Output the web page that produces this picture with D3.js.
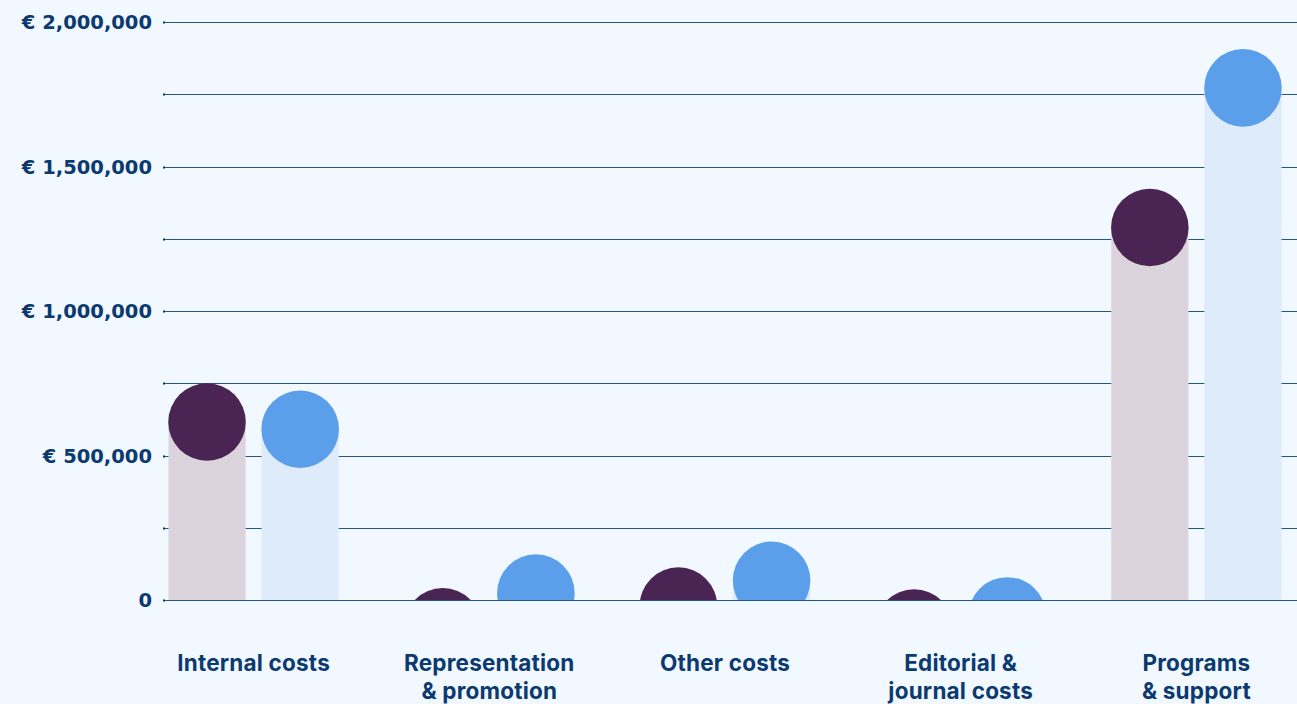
<!DOCTYPE html>
<html>
<head>
<meta charset="utf-8">
<script src="https://cdn.jsdelivr.net/npm/d3@7"></script>
<style>
  html, body { margin: 0; padding: 0; background: #f2f8ff; }
  svg { display: block; }
</style>
</head>
<body>
<svg id="chart" width="1297" height="704"></svg>
<script>
// ---- data ----
const categories = ["Internal costs", "Representation\n& promotion", "Other costs", "Editorial &\njournal costs", "Programs\n& support"];
const seriesNames = ["Previous year", "Current year"];
const previousYear = [616000, -93000, -21000, -97000, 1289000];
const currentYear = [591000, 24000, 68000, -55000, 1772000];
const yTicks = [0, 250000, 500000, 750000, 1000000, 1250000, 1500000, 1750000, 2000000];
const yTickLabels = ["0", "", "€ 500,000", "", "€ 1,000,000", "", "€ 1,500,000", "", "€ 2,000,000"];

// ---- styles ----
const barColors = ["#dcd4dd", "#deebfb"];
const dotColors = ["#4a2554", "#5b9eea"];
const textColor = "#0b3a70";
const gridColor = "#25558f";

const svg = d3.select("#chart");
const W = 1297, H = 704;

const y = d3.scaleLinear().domain([0, 2000000]).range([600, 22]);
const x0 = d3.scaleBand().domain(categories).range([135.75, 1314.25]).padding(0);
const x1 = d3.scaleBand().domain(seriesNames).range([0, x0.bandwidth()])
  .paddingInner(0.172).paddingOuter(0.351);

const gridX0 = 163, gridX1 = W;

// clip for plot area (nothing below zero line)
svg.append("defs").append("clipPath").attr("id", "plotclip")
  .append("rect").attr("x", 0).attr("y", 0).attr("width", W).attr("height", y(0));

// gridlines
const grid = svg.append("g");
grid.selectAll("line").data(yTicks.filter(d => d !== 0)).join("line")
  .attr("x1", gridX0).attr("x2", gridX1)
  .attr("y1", d => Math.round(y(d)) + 0.5).attr("y2", d => Math.round(y(d)) + 0.5)
  .attr("stroke", gridColor).attr("stroke-width", 1);

// y labels
svg.append("g").selectAll("text").data(yTicks.map((d, i) => ({v: d, t: yTickLabels[i]})).filter(d => d.t))
  .join("text")
  .attr("x", 152).attr("y", d => y(d.v))
  .attr("dy", "0.36em")
  .attr("text-anchor", "end")
  .attr("fill", textColor)
  .style("font-family", "'DejaVu Sans', sans-serif")
  .style("font-weight", 700)
  .style("font-size", "19.5px")
  .text(d => d.t);

const series = [previousYear, currentYear];
const plot = svg.append("g").attr("clip-path", "url(#plotclip)");

// bars
series.forEach((vals, si) => {
  plot.append("g").selectAll("rect").data(vals).join("rect")
    .attr("x", (d, i) => x0(categories[i]) + x1(seriesNames[si]))
    .attr("width", x1.bandwidth())
    .attr("y", d => y(Math.max(0, d)))
    .attr("height", d => Math.abs(y(0) - y(d)))
    .attr("fill", barColors[si]);
});
// dots
series.forEach((vals, si) => {
  plot.append("g").selectAll("circle").data(vals).join("circle")
    .attr("cx", (d, i) => x0(categories[i]) + x1(seriesNames[si]) + x1.bandwidth() / 2)
    .attr("cy", d => y(d))
    .attr("r", x1.bandwidth() / 2 + 0.2)
    .attr("fill", dotColors[si]);
});

// zero line on top
svg.append("line")
  .attr("x1", gridX0).attr("x2", gridX1)
  .attr("y1", Math.round(y(0)) + 0.5).attr("y2", Math.round(y(0)) + 0.5)
  .attr("stroke", gridColor).attr("stroke-width", 1.2);

// small tick dots at left
svg.append("g").selectAll("line").data(yTicks).join("line")
  .attr("x1", gridX0).attr("x2", gridX0 + 2)
  .attr("y1", d => Math.round(y(d)) + 0.5).attr("y2", d => Math.round(y(d)) + 0.5)
  .attr("stroke", "#0b3a70").attr("stroke-width", 2);

// x labels
const xl = svg.append("g").selectAll("text").data(categories).join("text")
  .attr("x", d => x0(d) + x0.bandwidth() / 2)
  .attr("y", 671)
  .attr("text-anchor", "middle")
  .attr("fill", textColor)
  .style("font-family", "Inter, sans-serif")
  .style("font-weight", 700)
  .style("font-size", "22.5px")
  .style("letter-spacing", "0.2px");
xl.each(function(d) {
  const lines = d.split("\n");
  const t = d3.select(this);
  lines.forEach((ln, i) => {
    t.append("tspan").attr("x", x0(d) + x0.bandwidth() / 2).attr("dy", i === 0 ? 0 : 28).text(ln);
  });
});
</script>
</body>
</html>
